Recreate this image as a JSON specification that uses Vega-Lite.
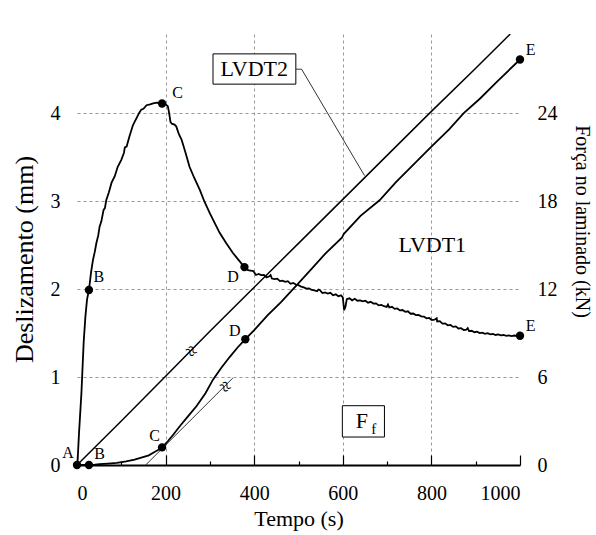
{
  "$schema": "https://vega.github.io/schema/vega-lite/v6.json",
  "width": 443,
  "height": 431,
  "autosize": {"type": "none"},
  "padding": {"left": 77, "top": 34, "right": 76, "bottom": 70},
  "config": {
    "font": "Liberation Serif",
    "view": {"stroke": null},
    "text": {"font": "Liberation Serif"},
    "axis": {"labelFont": "Liberation Serif", "titleFont": "Liberation Serif", "labelColor": "#000", "titleColor": "#000", "titleFontWeight": "normal"}
  },
  "datasets": {
    "lvdt1": [
      {"t":0,"mm":0},{"t":1,"mm":0.01},{"t":4.5,"mm":0.36},{"t":10,"mm":0.82},{"t":15,"mm":1.39},{"t":19,"mm":1.69},{"t":22.6,"mm":1.88},{"t":27,"mm":1.99},{"t":32,"mm":2.2},{"t":36,"mm":2.33},{"t":40,"mm":2.42},{"t":44,"mm":2.53},{"t":48,"mm":2.61},{"t":51,"mm":2.71},{"t":55,"mm":2.77},{"t":60,"mm":2.9},{"t":63,"mm":2.92},{"t":66,"mm":3.01},{"t":72,"mm":3.1},{"t":78,"mm":3.21},{"t":85,"mm":3.28},{"t":92,"mm":3.39},{"t":100,"mm":3.47},{"t":106,"mm":3.55},{"t":108,"mm":3.61},{"t":112,"mm":3.62},{"t":118,"mm":3.73},{"t":126,"mm":3.86},{"t":130,"mm":3.9},{"t":135,"mm":3.95},{"t":140,"mm":4.0},{"t":145,"mm":4.04},{"t":150,"mm":4.05},{"t":157,"mm":4.09},{"t":165,"mm":4.1},{"t":172,"mm":4.11},{"t":180,"mm":4.12},{"t":192,"mm":4.11},{"t":200,"mm":4.1},{"t":205,"mm":4.08},{"t":208,"mm":4.0},{"t":211,"mm":3.9},{"t":214,"mm":3.88},{"t":220,"mm":3.87},{"t":224,"mm":3.85},{"t":230,"mm":3.76},{"t":236,"mm":3.7},{"t":245,"mm":3.55},{"t":254,"mm":3.39},{"t":265,"mm":3.26},{"t":277,"mm":3.13},{"t":288,"mm":2.99},{"t":300,"mm":2.86},{"t":311,"mm":2.75},{"t":322,"mm":2.64},{"t":337,"mm":2.52},{"t":352,"mm":2.41},{"t":365,"mm":2.33},{"t":378,"mm":2.25},
      {"t":380,"mm":2.25},{"t":386,"mm":2.215},{"t":392,"mm":2.21},{"t":398,"mm":2.205},{"t":404,"mm":2.16},{"t":410,"mm":2.172},{"t":416,"mm":2.158},{"t":422,"mm":2.16},{"t":428,"mm":2.132},{"t":434,"mm":2.145},{"t":437,"mm":2.16},{"t":440,"mm":2.12},{"t":446,"mm":2.114},{"t":452,"mm":2.118},{"t":458,"mm":2.09},{"t":464,"mm":2.095},{"t":470,"mm":2.082},{"t":476,"mm":2.09},{"t":482,"mm":2.06},{"t":488,"mm":2.07},{"t":494,"mm":2.052},{"t":500,"mm":2.045},{"t":506,"mm":2.028},{"t":512,"mm":2.02},{"t":518,"mm":2.005},{"t":524,"mm":2.008},{"t":530,"mm":1.99},{"t":536,"mm":1.985},{"t":542,"mm":1.975},{"t":545,"mm":1.995},{"t":548,"mm":1.99},{"t":554,"mm":1.955},{"t":560,"mm":1.962},{"t":566,"mm":1.948},{"t":572,"mm":1.958},{"t":578,"mm":1.93},{"t":584,"mm":1.94},{"t":590,"mm":1.918},{"t":596,"mm":1.928},{"t":600,"mm":1.905},{"t":603,"mm":1.76},{"t":606,"mm":1.8},{"t":609,"mm":1.885},{"t":615,"mm":1.895},{"t":621,"mm":1.872},{"t":627,"mm":1.89},{"t":633,"mm":1.868},{"t":639,"mm":1.872},{"t":645,"mm":1.86},{"t":651,"mm":1.868},{"t":657,"mm":1.845},{"t":663,"mm":1.855},{"t":669,"mm":1.835},{"t":675,"mm":1.838},{"t":681,"mm":1.815},{"t":687,"mm":1.82},{"t":693,"mm":1.805},{"t":699,"mm":1.798},{"t":702,"mm":1.825},{"t":705,"mm":1.79},{"t":711,"mm":1.798},{"t":717,"mm":1.775},{"t":723,"mm":1.78},{"t":729,"mm":1.758},{"t":735,"mm":1.762},{"t":741,"mm":1.742},{"t":747,"mm":1.748},{"t":753,"mm":1.72},{"t":759,"mm":1.722},{"t":765,"mm":1.705},{"t":771,"mm":1.706},{"t":777,"mm":1.69},{"t":783,"mm":1.688},{"t":789,"mm":1.668},{"t":795,"mm":1.672},{"t":801,"mm":1.648},{"t":807,"mm":1.652},{"t":812,"mm":1.668},{"t":813,"mm":1.632},{"t":819,"mm":1.636},{"t":825,"mm":1.608},{"t":831,"mm":1.61},{"t":837,"mm":1.588},{"t":843,"mm":1.592},{"t":849,"mm":1.57},{"t":855,"mm":1.576},{"t":861,"mm":1.552},{"t":867,"mm":1.556},{"t":873,"mm":1.535},{"t":879,"mm":1.538},{"t":882,"mm":1.555},{"t":885,"mm":1.522},{"t":891,"mm":1.526},{"t":897,"mm":1.51},{"t":903,"mm":1.516},{"t":909,"mm":1.5},{"t":915,"mm":1.505},{"t":921,"mm":1.492},{"t":927,"mm":1.498},{"t":933,"mm":1.485},{"t":939,"mm":1.49},{"t":945,"mm":1.478},{"t":951,"mm":1.484},{"t":957,"mm":1.474},{"t":963,"mm":1.478},{"t":969,"mm":1.468},{"t":975,"mm":1.474},{"t":981,"mm":1.466},{"t":987,"mm":1.472},{"t":993,"mm":1.468},{"t":1000,"mm":1.47}
    ],
    "lvdt2": [
      {"t":0,"mm":0},{"t":100,"mm":0.5},{"t":200,"mm":1.01},{"t":300,"mm":1.52},{"t":400,"mm":2.02},{"t":500,"mm":2.52},{"t":600,"mm":3.02},{"t":700,"mm":3.52},{"t":800,"mm":4.02},{"t":900,"mm":4.51},{"t":978,"mm":4.9}
    ],
    "ff": [
      {"t":0,"kN":0},{"t":27,"kN":0},{"t":40,"kN":0.02},{"t":51,"kN":0.06},{"t":70,"kN":0.1},{"t":90,"kN":0.15},{"t":111,"kN":0.24},{"t":130,"kN":0.36},{"t":149,"kN":0.54},{"t":162,"kN":0.66},{"t":172,"kN":0.84},{"t":182,"kN":1.0},{"t":192,"kN":1.2},{"t":205,"kN":1.62},{"t":218,"kN":2.1},{"t":232,"kN":2.64},{"t":250,"kN":3.3},{"t":270,"kN":4.02},{"t":290,"kN":4.9},{"t":307,"kN":5.82},{"t":325,"kN":6.6},{"t":345,"kN":7.38},{"t":362,"kN":8.0},{"t":380,"kN":8.58},{"t":400,"kN":9.2},{"t":430,"kN":10.2},{"t":460,"kN":11.1},{"t":495,"kN":12.24},{"t":530,"kN":13.4},{"t":560,"kN":14.4},{"t":598,"kN":15.5},{"t":602,"kN":15.75},{"t":640,"kN":17.0},{"t":683,"kN":18.06},{"t":720,"kN":19.3},{"t":760,"kN":20.5},{"t":800,"kN":21.72},{"t":840,"kN":22.9},{"t":873,"kN":24.0},{"t":910,"kN":25.0},{"t":950,"kN":26.2},{"t":1000,"kN":27.66}
    ],
    "ffdots": [
      {"t":0,"kN":0},{"t":27,"kN":0},{"t":192,"kN":1.2},{"t":380,"kN":8.58},{"t":1000,"kN":27.66}
    ],
    "lvdt1dots": [
      {"t":27,"mm":1.99},{"t":192,"mm":4.11},{"t":378,"mm":2.25},{"t":1000,"mm":1.47}
    ],
    "tangent": [{"t":155,"mm":0},{"t":352,"mm":0.99}],
    "leader": [{"t":494,"mm":4.5},{"t":507,"mm":4.5},{"t":649,"mm":3.29}],
    "boxes": [
      {"t":307,"t2":494,"mm":4.33,"mm2":4.674},
      {"t":599,"t2":694,"mm":0.318,"mm2":0.674}
    ],
    "points": [
      {"t":-20,"mm":0.14,"txt":"A"},
      {"t":51,"mm":0.12,"txt":"B"},
      {"t":49,"mm":2.14,"txt":"B"},
      {"t":227,"mm":4.23,"txt":"C"},
      {"t":175,"mm":0.33,"txt":"C"},
      {"t":352,"mm":2.14,"txt":"D"},
      {"t":356,"mm":1.52,"txt":"D"},
      {"t":1024,"mm":4.72,"txt":"E"},
      {"t":1024,"mm":1.575,"txt":"E"}
    ],
    "big": [
      {"t":400,"mm":4.5,"txt":"LVDT2"},
      {"t":802,"mm":2.5,"txt":"LVDT1"},
      {"t":643,"mm":0.5,"txt":"F"}
    ],
    "sub": [{"t":670,"mm":0.41,"txt":"f"}],
    "breaks": [{"t":257,"mm":1.29,"txt":"≈"},{"t":334,"mm":0.886,"txt":"≈"}]
  },
  "layer": [
    {
      "layer": [
        {
          "data": {"name": "lvdt2"},
          "mark": {"type": "line", "color": "#000", "strokeWidth": 1.5, "clip": true},
          "encoding": {
            "x": {"field": "t", "type": "quantitative", "scale": {"domain": [0, 1000], "nice": false},
              "axis": {
                "title": "Tempo (s)", "values": [0,100,200,300,400,500,600,700,800,900,1000], "format": "d",
                "labelExpr": "datum.value % 200 == 0 ? datum.label : ''",
                "labelFontSize": 20, "titleFontSize": 22, "labelPadding": 28, "titlePadding": 5,
                "tickSize": {"condition": {"test": "datum.value % 200 == 0", "value": -10}, "value": -4},
                "tickColor": "#000", "tickWidth": 1.2, "domainColor": "#000", "domainWidth": 2,
                "grid": true, "gridDash": [3, 3], "gridColor": "#999", "gridWidth": 1,
                "gridOpacity": {"condition": {"test": "datum.value % 200 != 0 || datum.value == 0 || datum.value == 1000", "value": 0}, "value": 1}
              }},
            "y": {"field": "mm", "type": "quantitative", "scale": {"domain": [0, 4.9], "nice": false},
              "axis": {
                "title": "Deslizamento (mm)", "values": [0,1,2,3,4], "format": "d", "ticks": false, "domain": false,
                "labelFontSize": 20, "labelPadding": 17, "titleFontSize": 26, "titlePadding": 13, "titleY": 225,
                "grid": true, "gridDash": [3, 3], "gridColor": "#999", "gridWidth": 1,
                "gridOpacity": {"condition": {"test": "datum.value == 0", "value": 0}, "value": 1}
              }}
          }
        },
        {
          "data": {"name": "lvdt1"},
          "mark": {"type": "line", "color": "#000", "strokeWidth": 1.8},
          "encoding": {"x": {"field": "t", "type": "quantitative"}, "y": {"field": "mm", "type": "quantitative"}}
        },
        {
          "data": {"name": "tangent"},
          "mark": {"type": "line", "color": "#000", "strokeWidth": 0.8},
          "encoding": {"x": {"field": "t", "type": "quantitative"}, "y": {"field": "mm", "type": "quantitative"}}
        },
        {
          "data": {"name": "leader"},
          "mark": {"type": "line", "color": "#000", "strokeWidth": 0.8},
          "encoding": {"x": {"field": "t", "type": "quantitative"}, "y": {"field": "mm", "type": "quantitative"}}
        },
        {
          "data": {"name": "boxes"},
          "mark": {"type": "rect", "fill": "#fff", "stroke": "#000", "strokeWidth": 1},
          "encoding": {"x": {"field": "t", "type": "quantitative"}, "x2": {"field": "t2"}, "y": {"field": "mm", "type": "quantitative"}, "y2": {"field": "mm2"}}
        },
        {
          "data": {"name": "lvdt1dots"},
          "mark": {"type": "point", "filled": true, "color": "#000", "size": 70, "opacity": 1},
          "encoding": {"x": {"field": "t", "type": "quantitative"}, "y": {"field": "mm", "type": "quantitative"}}
        },
        {
          "data": {"name": "points"},
          "mark": {"type": "text", "font": "Liberation Serif", "fontSize": 16, "color": "#000", "align": "center", "baseline": "middle"},
          "encoding": {"x": {"field": "t", "type": "quantitative"}, "y": {"field": "mm", "type": "quantitative"}, "text": {"field": "txt"}}
        },
        {
          "data": {"name": "big"},
          "mark": {"type": "text", "font": "Liberation Serif", "fontSize": 22, "color": "#000", "align": "center", "baseline": "middle"},
          "encoding": {"x": {"field": "t", "type": "quantitative"}, "y": {"field": "mm", "type": "quantitative"}, "text": {"field": "txt"}}
        },
        {
          "data": {"name": "sub"},
          "mark": {"type": "text", "font": "Liberation Serif", "fontSize": 15, "color": "#000", "align": "center", "baseline": "middle"},
          "encoding": {"x": {"field": "t", "type": "quantitative"}, "y": {"field": "mm", "type": "quantitative"}, "text": {"field": "txt"}}
        },
        {
          "data": {"name": "breaks"},
          "mark": {"type": "text", "font": "Liberation Serif", "fontSize": 20, "color": "#000", "align": "center", "baseline": "middle", "angle": 50},
          "encoding": {"x": {"field": "t", "type": "quantitative"}, "y": {"field": "mm", "type": "quantitative"}, "text": {"field": "txt"}}
        }
      ]
    },
    {
      "layer": [
        {
          "data": {"name": "ff"},
          "mark": {"type": "line", "color": "#000", "strokeWidth": 1.8},
          "encoding": {
            "x": {"field": "t", "type": "quantitative"},
            "y": {"field": "kN", "type": "quantitative", "scale": {"domain": [0, 29.4], "nice": false},
              "axis": {
                "orient": "right", "title": "Força no laminado (kN)", "values": [0,6,12,18,24], "ticks": false, "domain": false, "grid": false,
                "labelFontSize": 20, "labelPadding": 17, "titleFontSize": 20, "titlePadding": 14, "titleY": 187
              }}
          }
        },
        {
          "data": {"name": "ffdots"},
          "mark": {"type": "point", "filled": true, "color": "#000", "size": 70, "opacity": 1},
          "encoding": {"x": {"field": "t", "type": "quantitative"}, "y": {"field": "kN", "type": "quantitative"}}
        }
      ]
    }
  ],
  "resolve": {"scale": {"y": "independent"}}
}
